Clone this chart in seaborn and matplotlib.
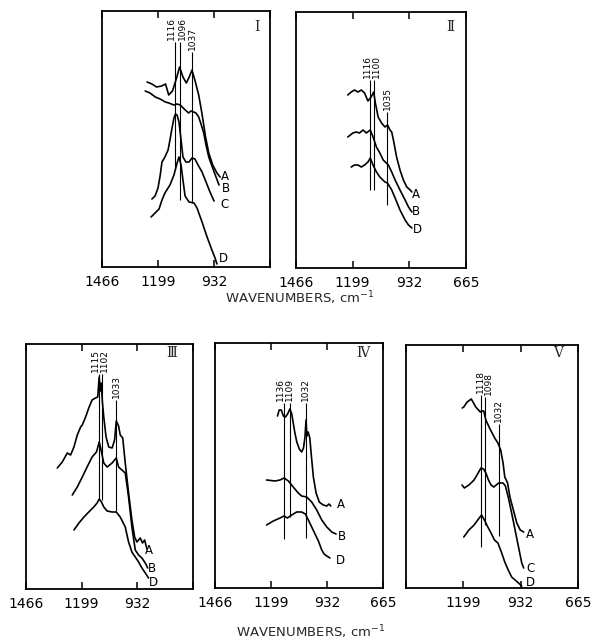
import matplotlib
matplotlib.use("Agg")
import matplotlib.pyplot as plt
import pandas as pd
import seaborn as sns

# ---------------------------------------------------------------
# IR spectra (wavenumber in cm-1, absorbance in arbitrary offset units)
# ---------------------------------------------------------------
# Panel I
I_A_wn = [1251, 1228, 1206, 1182, 1163, 1148, 1130, 1112, 1096, 1080, 1064, 1050, 1037, 1022, 1005, 989, 973, 957, 938, 918, 903]
I_A_ab = [185, 183, 180, 181, 183, 172, 176, 188, 200, 190, 184, 190, 197, 186, 172, 153, 131, 114, 102, 94, 90]
I_B_wn = [1260, 1237, 1212, 1189, 1164, 1147, 1124, 1108, 1093, 1069, 1053, 1042, 1029, 1018, 1005, 994, 981, 970, 957, 942, 926, 908]
I_B_ab = [176, 174, 170, 168, 165, 164, 162, 163, 162, 157, 154, 156, 155, 154, 150, 143, 134, 122, 110, 101, 92, 82]
I_C_wn = [1228, 1213, 1199, 1189, 1180, 1166, 1151, 1142, 1132, 1123, 1116, 1108, 1099, 1089, 1080, 1066, 1051, 1037, 1023, 1008, 989, 970, 951, 932]
I_C_ab = [68, 71, 79, 91, 105, 110, 117, 127, 139, 149, 153, 152, 145, 127, 110, 105, 105, 109, 108, 102, 95, 85, 75, 66]
I_D_wn = [1232, 1213, 1194, 1180, 1166, 1142, 1123, 1108, 1099, 1089, 1080, 1070, 1051, 1027, 1013, 989, 965, 942, 927, 918]
I_D_ab = [50, 54, 58, 67, 74, 82, 92, 104, 110, 102, 87, 71, 65, 64, 59, 45, 30, 17, 9, 3]
I_peaks = [1116, 1096, 1037]

# Panel II
II_A_wn = [1222, 1206, 1190, 1174, 1158, 1143, 1127, 1112, 1100, 1092, 1079, 1063, 1047, 1035, 1023, 1015, 1007, 992, 976, 960, 944, 928, 920]
II_A_ab = [173, 176, 178, 176, 178, 175, 167, 171, 176, 165, 151, 145, 141, 143, 138, 136, 128, 111, 98, 88, 81, 78, 76]
II_B_wn = [1222, 1198, 1182, 1167, 1150, 1135, 1116, 1103, 1087, 1071, 1055, 1031, 1015, 999, 976, 952, 936, 920]
II_B_ab = [131, 135, 136, 135, 138, 135, 138, 131, 121, 115, 108, 103, 96, 88, 78, 68, 61, 56]
II_D_wn = [1206, 1190, 1174, 1158, 1143, 1127, 1116, 1103, 1087, 1071, 1047, 1035, 1015, 999, 976, 952, 936, 920]
II_D_ab = [101, 103, 103, 101, 103, 106, 110, 103, 96, 91, 86, 85, 78, 70, 58, 48, 43, 40]
II_peaks = [1116, 1100, 1035]

# Panel III
III_A_wn = [1316, 1292, 1268, 1252, 1236, 1220, 1204, 1196, 1180, 1165, 1149, 1133, 1122, 1115, 1110, 1105, 1100, 1093, 1082, 1069, 1053, 1041, 1033, 1022, 1014, 1002, 990, 974, 958, 945, 934, 918, 907, 897, 886]
III_A_ab = [121, 127, 136, 134, 142, 154, 162, 164, 172, 181, 189, 191, 192, 212, 198, 206, 188, 172, 152, 142, 141, 149, 168, 163, 154, 151, 126, 96, 69, 52, 47, 51, 46, 49, 40]
III_B_wn = [1244, 1220, 1196, 1173, 1149, 1128, 1115, 1109, 1093, 1077, 1053, 1033, 1022, 1006, 990, 974, 958, 942, 926, 910, 894, 882]
III_B_ab = [94, 102, 112, 122, 132, 137, 147, 142, 126, 122, 126, 131, 122, 119, 116, 92, 62, 39, 34, 31, 26, 21]
III_D_wn = [1236, 1212, 1188, 1165, 1141, 1125, 1115, 1104, 1093, 1077, 1053, 1033, 1014, 990, 974, 958, 942, 926, 910, 894, 878]
III_D_ab = [59, 66, 72, 77, 82, 86, 90, 87, 82, 78, 77, 77, 72, 62, 47, 37, 32, 27, 21, 16, 11]
III_peaks = [1115, 1102, 1033]

# Panel IV
IV_A_wn = [1168, 1160, 1150, 1140, 1130, 1120, 1109, 1100, 1093, 1085, 1076, 1064, 1053, 1044, 1037, 1032, 1028, 1022, 1014, 1006, 997, 984, 969, 950, 933, 922, 914]
IV_A_ab = [172, 178, 178, 172, 171, 174, 179, 174, 165, 155, 146, 139, 136, 140, 151, 168, 152, 156, 150, 131, 111, 95, 86, 83, 82, 84, 82]
IV_B_wn = [1220, 1180, 1156, 1137, 1116, 1093, 1069, 1053, 1029, 1005, 981, 957, 933, 909, 889]
IV_B_ab = [108, 107, 108, 110, 107, 101, 95, 92, 91, 86, 78, 68, 61, 56, 54]
IV_D_wn = [1220, 1188, 1156, 1137, 1121, 1100, 1077, 1053, 1035, 1021, 1005, 989, 973, 957, 946, 933, 918]
IV_D_ab = [63, 67, 70, 72, 70, 73, 76, 76, 74, 68, 61, 54, 47, 38, 34, 32, 30]
IV_peaks = [1136, 1109, 1032]

# Panel V
V_A_wn = [1204, 1197, 1181, 1162, 1141, 1120, 1114, 1104, 1094, 1077, 1053, 1038, 1025, 1014, 1006, 993, 982, 966, 950, 934, 918]
V_A_ab = [180, 181, 186, 189, 181, 176, 177, 177, 168, 160, 150, 145, 138, 125, 111, 105, 91, 78, 65, 58, 56]
V_C_wn = [1205, 1194, 1173, 1149, 1130, 1117, 1105, 1094, 1082, 1070, 1057, 1046, 1034, 1014, 1003, 990, 974, 958, 942, 927, 918]
V_C_ab = [103, 100, 103, 108, 115, 120, 119, 115, 108, 103, 101, 103, 105, 105, 102, 91, 75, 58, 41, 25, 20]
V_D_wn = [1197, 1173, 1149, 1125, 1114, 1101, 1085, 1070, 1054, 1038, 1022, 1006, 990, 974, 958, 942, 927]
V_D_ab = [51, 58, 63, 70, 73, 68, 61, 55, 48, 45, 36, 26, 18, 11, 8, 5, 2]
V_peaks = [1118, 1098, 1032]

tick_values = [1466, 1199, 932, 665]

# ---------------------------------------------------------------
# Layout (pixel boxes of the 593x642 canvas) and annotation placement
# ---------------------------------------------------------------
W, H = 593, 642

panels = [
    dict(name="\u2160", box=(102, 11, 270, 267), num_xy=(257, 27),
         traces=[("A", I_A_wn, I_A_ab), ("B", I_B_wn, I_B_ab), ("C", I_C_wn, I_C_ab), ("D", I_D_wn, I_D_ab)],
         trace_labels=[(880, 91), (875, 79), (880, 62), (886, 8)],
         peaks=I_peaks, peak_span=[(225, 97), (225, 67), (215, 64)],
         peak_text=[(1133, 227), (1084, 227), (1033, 217)],
         ticklabels=["1466", "1199", "932", ""]),
    dict(name="\u2161", box=(296, 12, 466, 268), num_xy=(450, 27),
         traces=[("A", II_A_wn, II_A_ab), ("B", II_B_wn, II_B_ab), ("D", II_D_wn, II_D_ab)],
         trace_labels=[(901, 74), (901, 57), (896, 39)],
         peaks=II_peaks, peak_span=[(188, 78), (188, 78), (156, 63)],
         peak_text=[(1127, 190), (1087, 190), (1033, 158)],
         ticklabels=["1466", "1199", "932", "665"]),
    dict(name="\u2162", box=(26, 344, 193, 589), num_xy=(172, 353),
         traces=[("A", III_A_wn, III_A_ab), ("B", III_B_wn, III_B_ab), ("D", III_D_wn, III_D_ab)],
         trace_labels=[(876, 39), (862, 21), (855, 7)],
         peaks=III_peaks, peak_span=[(215, 89), (215, 89), (189, 78)],
         peak_text=[(1134, 217), (1092, 217), (1032, 191)],
         ticklabels=["1466", "1199", "932", ""]),
    dict(name="\u2163", box=(215, 343, 383, 588), num_xy=(363, 353),
         traces=[("A", IV_A_wn, IV_A_ab), ("B", IV_B_wn, IV_B_ab), ("D", IV_D_wn, IV_D_ab)],
         trace_labels=[(868, 83), (862, 51), (868, 28)],
         peaks=IV_peaks, peak_span=[(185, 49), (185, 71), (185, 50)],
         peak_text=[(1153, 187), (1111, 187), (1033, 187)],
         ticklabels=["1466", "1199", "932", "665"]),
    dict(name="\u2164", box=(406, 345, 578, 588), num_xy=(558, 353),
         traces=[("A", V_A_wn, V_A_ab), ("C", V_C_wn, V_C_ab), ("D", V_D_wn, V_D_ab)],
         trace_labels=[(890, 54), (887, 19), (887, 5)],
         peaks=V_peaks, peak_span=[(193, 41), (191, 63), (164, 52)],
         peak_text=[(1121, 195), (1080, 193), (1034, 166)],
         ticklabels=["", "1199", "932", "665"]),
]

sns.set_style("white")
plt.rcParams["font.family"] = ["DejaVu Sans"]

fig = plt.figure(figsize=(W / 100, H / 100), dpi=100)
fig.patch.set_facecolor("white")


def box_to_rect(box):
    left, top, right, bottom = box
    return [left / W, 1 - bottom / H, (right - left) / W, (bottom - top) / H]


for p in panels:
    left, top, right, bottom = p["box"]
    ax = fig.add_axes(box_to_rect(p["box"]))
    frames = []
    for label, wn, ab in p["traces"]:
        frames.append(pd.DataFrame({"wavenumber": wn, "absorbance": ab, "trace": label}))
    df = pd.concat(frames, ignore_index=True)
    sns.lineplot(data=df, x="wavenumber", y="absorbance", hue="trace",
                 palette=["black"] * len(p["traces"]), sort=False,
                 estimator=None, legend=False, linewidth=1.2, ax=ax)

    # assignment lines with their rotated wavenumber tags
    for pk, (y_top, y_bot), (tx, ty) in zip(p["peaks"], p["peak_span"], p["peak_text"]):
        ax.vlines(pk, y_bot, y_top, color="black", linewidth=0.8)
        ax.text(tx, ty, str(pk), rotation=90, ha="center", va="bottom",
                fontsize=6.5, color="black")

    for (label, _, _), (lx, ly) in zip(p["traces"], p["trace_labels"]):
        ax.text(lx, ly, label, ha="center", va="center", fontsize=8.5, color="black")

    ax.set_xlim(1466, 665)
    ax.set_ylim(0, bottom - top)
    ax.set_yticks([])
    ax.set_xticks(tick_values)
    ax.set_xticklabels(p["ticklabels"])
    ax.tick_params(axis="x", direction="in", length=5, width=1.1, top=True,
                   bottom=True, labelsize=10, pad=6, colors="black")
    ax.set_xlabel("")
    ax.set_ylabel("")
    for sp in ax.spines.values():
        sp.set_linewidth(1.3)
        sp.set_color("black")

    nx, ny = p["num_xy"]
    fig.text(nx / W, 1 - ny / H, p["name"], ha="center", va="center",
             fontsize=10, family=["DejaVu Serif", "DejaVu Sans", "Noto Sans CJK JP"])

fig.text(300 / W, 1 - 298 / H, "WAVENUMBERS, cm$^{-1}$", ha="center", va="center", fontsize=9.5)
fig.text(311 / W, 1 - 632 / H, "WAVENUMBERS, cm$^{-1}$", ha="center", va="center", fontsize=9.5)

fig.savefig("out.png", dpi=100, facecolor="white")
